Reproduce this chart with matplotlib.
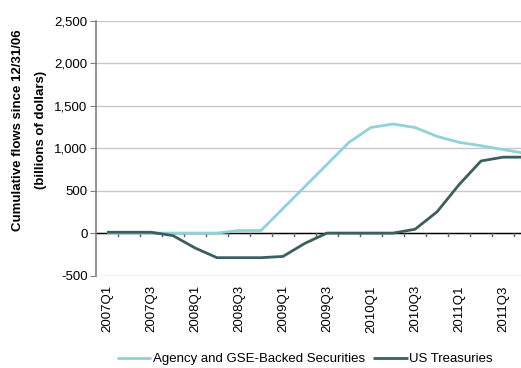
import matplotlib
matplotlib.use("Agg")
import matplotlib.pyplot as plt
from matplotlib.ticker import FixedLocator, FuncFormatter

plt.rcParams['font.family'] = ['Liberation Sans', 'DejaVu Sans']

quarters = [f"{y}Q{q}" for y in range(2007, 2012) for q in range(1, 5)]
agency = [0, 0, 0, 0, 0, 0, 30, 30, 290, 550, 810, 1070,
          1245, 1285, 1245, 1140, 1070, 1030, 985, 940]
treasuries = [10, 10, 10, -30, -175, -290, -290, -290, -275, -120, 0, 0,
              0, 0, 45, 250, 570, 850, 895, 895]
tick_labels = quarters[::2]

W, H = 521, 368
fig = plt.figure(figsize=(W / 100, H / 100), dpi=100)
# axes region in pixels: left spine at x=96, categories 22 px apart
left, right = 96, 96 + 22 * len(quarters)
top, bottom = 21, 275.5
ax = fig.add_axes([left / W, 1 - bottom / H, (right - left) / W, (bottom - top) / H])

x = list(range(len(quarters)))
l1, = ax.plot(x, agency, color='#8fd2d7', lw=2.0, solid_capstyle='butt',
              label='Agency and GSE-Backed Securities', zorder=3)
l2, = ax.plot(x, treasuries, color='#3d5e5e', lw=2.0, solid_capstyle='butt',
              label='US Treasuries', zorder=4)

ax.set_xlim(-0.5, len(quarters) - 0.5)
ax.set_ylim(-500, 2500)
ax.yaxis.set_major_locator(FixedLocator(range(-500, 2501, 500)))
ax.yaxis.set_major_formatter(FuncFormatter(lambda v, p: f"{int(v):,}"))
ax.grid(axis='y', color='#c8c8c8', lw=1.0, zorder=0)

for s in ['top', 'right', 'bottom']:
    ax.spines[s].set_visible(False)
ax.spines['left'].set_color('#808080')
ax.spines['left'].set_linewidth(1.2)
ax.tick_params(axis='y', direction='out', length=4, color='#808080',
               labelsize=9.5, pad=2)

# tick labels for every other quarter
ax.set_xticks(x[::2])
ax.set_xticklabels(tick_labels, rotation=90, fontsize=9.5)
ax.tick_params(axis='x', length=0, pad=7)

# category axis along zero with tick marks between categories
ax.axhline(0, color='black', lw=1.0, zorder=2)
for b in range(1, len(quarters)):
    ax.plot([b - 0.5, b - 0.5], [0, -40], color='#606060', lw=1.0, zorder=2)

fig.text(18 / W, 1 - 130 / H, 'Cumulative flows since 12/31/06',
         rotation=90, ha='center', va='center', fontsize=9.5, fontweight='bold')
fig.text(41 / W, 1 - 130 / H, '(billions of dollars)',
         rotation=90, ha='center', va='center', fontsize=9.5, fontweight='bold')

fig.legend(handles=[l1, l2], loc='center', bbox_to_anchor=(305 / W, 1 - 359 / H),
           ncol=2, frameon=False, fontsize=9.5, handlelength=2.6,
           handletextpad=0.15, columnspacing=0.6, borderaxespad=0, borderpad=0)

fig.savefig('out.png', dpi=100)
